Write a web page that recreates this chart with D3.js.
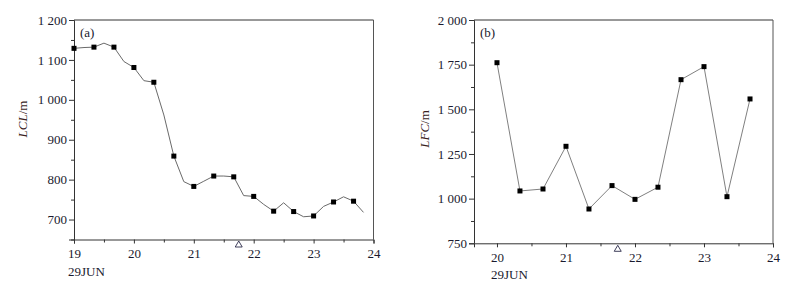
<!DOCTYPE html>
<html>
<head>
<meta charset="utf-8">
<script src="https://cdn.jsdelivr.net/npm/d3@7"></script>
<style>
  html, body { margin: 0; padding: 0; background: #fff; }
  svg { display: block; }
  text { font-family: "Liberation Serif", "Times New Roman", serif; }
</style>
</head>
<body>
<svg id="chart" width="804" height="289"></svg>
<script>
// ---------- DATA ----------
// Panel (a): LCL (m), line every 4 h, markers every 8 h (day of June 29 -> 19..24 axis)
const lclLineTime = [19.0, 19.167, 19.333, 19.5, 19.667, 19.833, 20.0, 20.167, 20.333, 20.5,
                     20.667, 20.833, 21.0, 21.167, 21.333, 21.5, 21.667, 21.833, 22.0, 22.167,
                     22.333, 22.5, 22.667, 22.833, 23.0, 23.167, 23.333, 23.5, 23.667, 23.833];
const lclLineValue = [1129, 1131, 1132, 1142, 1132, 1096, 1081, 1048, 1044, 962,
                      859, 795, 783, 796, 809, 809, 807, 760, 758, 738,
                      721, 742, 720, 707, 709, 733, 744, 757, 746, 718];
const lclMarkTime = [19.0, 19.333, 19.667, 20.0, 20.333, 20.667, 21.0, 21.333, 21.667, 22.0,
                     22.333, 22.667, 23.0, 23.333, 23.667];
const lclMarkValue = [1129, 1132, 1132, 1081, 1044, 859, 783, 809, 807, 758,
                      721, 720, 709, 744, 746];

// Panel (b): LFC (m)
const lfcTime = [20.0, 20.333, 20.667, 21.0, 21.333, 21.667, 22.0, 22.333, 22.667, 23.0, 23.333, 23.667];
const lfcValue = [1761, 1043, 1054, 1293, 942, 1073, 996, 1064, 1666, 1739, 1011, 1558];

// Axis ticks
const aYTicks = [700, 800, 900, 1000, 1100, 1200];
const aYMinor = [650, 750, 850, 950, 1050, 1150];
const aXTicks = [19, 20, 21, 22, 23, 24];
const aXMinor = [19.5, 20.5, 21.5, 22.5, 23.5];
const bYTicks = [750, 1000, 1250, 1500, 1750, 2000];
const bYMinor = [875, 1125, 1375, 1625, 1875];
const bXTicks = [20, 21, 22, 23, 24];
const bXMinor = [20.5, 21.5, 22.5, 23.5];
const eventTime = [21.75];   // open triangle marker on the time axis

// ---------- DRAW ----------
const svg = d3.select("#chart");
svg.append("rect").attr("width", 804).attr("height", 289).attr("fill", "#fff");

const fmt = d3.formatLocale({decimal: ".", thousands: " ", grouping: [3], currency: ["", ""]}).format(",d");

function panel(cfg) {
  const g = svg.append("g");
  const x = d3.scaleLinear().domain(cfg.xDomain).range([cfg.left, cfg.right]);
  const y = d3.scaleLinear().domain(cfg.yDomain).range([cfg.bottom, cfg.top]);
  const axisColor = "#333";
  const textColor = "#1a1a2e";

  // frame top/right
  g.append("line").attr("x1", cfg.left).attr("x2", cfg.right).attr("y1", cfg.top).attr("y2", cfg.top)
    .attr("stroke", axisColor).attr("stroke-width", 1);
  g.append("line").attr("x1", cfg.right).attr("x2", cfg.right).attr("y1", cfg.top).attr("y2", cfg.bottom)
    .attr("stroke", "#555").attr("stroke-width", 1);

  // y axis (major)
  const yAx = g.append("g").attr("transform", `translate(${cfg.left},0)`)
    .call(d3.axisLeft(y).tickValues(cfg.yTicks).tickFormat(fmt).tickSize(5).tickPadding(2));
  yAx.select(".domain").attr("stroke", axisColor);
  yAx.selectAll(".tick line").attr("stroke", axisColor);
  yAx.selectAll("text").attr("font-size", 13).attr("fill", textColor)
    .attr("font-family", "'Liberation Serif', serif");
  g.append("g").attr("transform", `translate(${cfg.left},0)`)
    .call(d3.axisLeft(y).tickValues(cfg.yMinor).tickFormat("").tickSize(3))
    .call(s => { s.select(".domain").remove(); s.selectAll("line").attr("stroke", axisColor); });

  // x axis
  const xAx = g.append("g").attr("transform", `translate(0,${cfg.bottom})`)
    .call(d3.axisBottom(x).tickValues(cfg.xTicks).tickFormat(d3.format("d")).tickSize(4).tickPadding(5));
  xAx.select(".domain").attr("stroke", axisColor);
  xAx.selectAll(".tick line").attr("stroke", axisColor);
  xAx.selectAll("text").attr("font-size", 13).attr("fill", textColor)
    .attr("font-family", "'Liberation Serif', serif");
  g.append("g").attr("transform", `translate(0,${cfg.bottom})`)
    .call(d3.axisBottom(x).tickValues(cfg.xMinor).tickFormat("").tickSize(3))
    .call(s => { s.select(".domain").remove(); s.selectAll("line").attr("stroke", axisColor); });

  // line
  const line = d3.line().x(d => x(d[0])).y(d => y(d[1]));
  g.append("path").datum(d3.zip(cfg.lineT, cfg.lineV))
    .attr("d", line).attr("fill", "none").attr("stroke", cfg.lineColor).attr("stroke-width", 1);

  // markers
  const ms = 5;
  g.selectAll("rect.mk").data(d3.zip(cfg.markT, cfg.markV)).join("rect")
    .attr("class", "mk")
    .attr("x", d => x(d[0]) - ms / 2).attr("y", d => y(d[1]) - ms / 2)
    .attr("width", ms).attr("height", ms).attr("fill", "#000");

  // event triangle
  g.selectAll("path.tri").data(eventTime).join("path").attr("class", "tri")
    .attr("d", d => {
      const cx = x(d), top = cfg.bottom + cfg.triOff, h = 6, w = 7;
      return `M${cx},${top} L${cx + w / 2},${top + h} L${cx - w / 2},${top + h} Z`;
    })
    .attr("fill", "none").attr("stroke", "#2a2a4a").attr("stroke-width", 0.9);

  // panel label
  g.append("text").attr("x", cfg.left + 6).attr("y", cfg.top + 17).attr("font-size", 13)
    .attr("fill", textColor).text(cfg.tag);

  // y label
  const yl = g.append("text")
    .attr("transform", `translate(${cfg.yLabX},${cfg.yLabY}) rotate(-90)`)
    .attr("text-anchor", "middle").attr("font-size", 13).attr("fill", "#3a1f1f");
  yl.append("tspan").attr("font-style", "italic").text(cfg.yName);
  yl.append("tspan").text("/m");

  // date label
  g.append("text").attr("x", cfg.dateX).attr("y", cfg.bottom + 36).attr("font-size", 13)
    .attr("fill", textColor).text("29JUN");
}

panel({
  left: 74, right: 373.5, top: 20, bottom: 239.5,
  xDomain: [19, 24], yDomain: [650, 1200],
  yTicks: aYTicks, yMinor: aYMinor, xTicks: aXTicks, xMinor: aXMinor,
  lineT: lclLineTime, lineV: lclLineValue, markT: lclMarkTime, markV: lclMarkValue,
  lineColor: "#6a6a6a", tag: "(a)", yName: "LCL", yLabX: 27, yLabY: 119,
  dateX: 68, triOff: 1.5
});

panel({
  left: 474, right: 773, top: 20, bottom: 243.3,
  xDomain: [19.667, 24], yDomain: [750, 2000],
  yTicks: bYTicks, yMinor: bYMinor, xTicks: bXTicks, xMinor: bXMinor,
  lineT: lfcTime, lineV: lfcValue, markT: lfcTime, markV: lfcValue,
  lineColor: "#808080", tag: "(b)", yName: "LFC", yLabX: 429, yLabY: 129,
  dateX: 491, triOff: 2
});
</script>
</body>
</html>
